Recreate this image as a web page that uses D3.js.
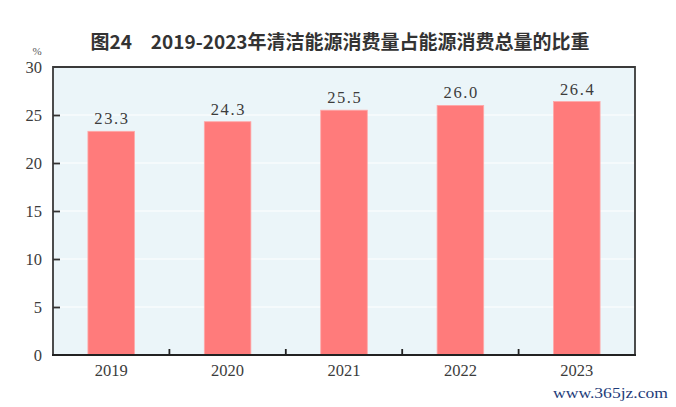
<!DOCTYPE html>
<html><head><meta charset="utf-8">
<script src="https://cdn.jsdelivr.net/npm/d3@7"></script>
<style>html,body{margin:0;padding:0;background:#fff;}svg{display:block;}
.serif{font-family:"Liberation Serif","Times New Roman",serif;}</style>
</head><body>
<svg id="chart" width="676" height="407"></svg>
<script>
const title = "图24\u30002019-2023年清洁能源消费量占能源消费总量的比重";
const years = ["2019", "2020", "2021", "2022", "2023"];
const shares = [23.3, 24.3, 25.5, 26.0, 26.4];
const yTicks = [0, 5, 10, 15, 20, 25, 30];
const unitLabel = "%";
const watermark = "www.365jz.com";

const svg = d3.select("#chart");
const L = 53, R = 635, T = 67, B = 355;

const x = d3.scaleBand().domain(years).range([L, R]).paddingInner(0.6).paddingOuter(0.3);
const xb = d3.scaleBand().domain(years).range([L, R]);
const y = d3.scaleLinear().domain([0, 30]).range([B, T]);

// background
svg.append("rect").attr("x", L).attr("y", T).attr("width", R - L).attr("height", B - T).attr("fill", "#ebf5f9");

// gridlines
svg.append("g").selectAll("line").data(yTicks.filter(d => d > 0 && d < 30)).join("line")
  .attr("x1", L).attr("x2", R).attr("y1", d => y(d)).attr("y2", d => y(d))
  .attr("stroke", "#ffffff").attr("stroke-width", 1.2);

// bars
svg.append("g").selectAll("rect").data(shares).join("rect")
  .attr("x", (d, i) => x(years[i])).attr("width", x.bandwidth())
  .attr("y", d => y(d)).attr("height", d => B - y(d))
  .attr("fill", "#ff7b7b").attr("stroke", "#ffa8a8").attr("stroke-width", 0.8);

// value labels
svg.append("g").selectAll("text").data(shares).join("text")
  .attr("class", "serif")
  .attr("x", (d, i) => x(years[i]) + x.bandwidth() / 2 + 0.8)
  .attr("y", d => y(d) - 7)
  .attr("text-anchor", "middle")
  .style("font-size", "16.5px").style("letter-spacing", "1.6px")
  .attr("fill", "#3c3c3c").text(d => d.toFixed(1));

// frame
svg.append("path").attr("d", `M${L},${B}V${T}H${R}V${B}`).attr("fill", "none")
  .attr("stroke", "#3a3a3a").attr("stroke-width", 1.8);

// y axis
const yAxis = d3.axisLeft(y).tickValues(yTicks).tickSize(-7).tickPadding(11).tickFormat(d3.format("d"));
const gy = svg.append("g").attr("transform", `translate(${L},0)`).call(yAxis);
gy.attr("font-family", null).attr("font-size", null);
gy.select(".domain").remove();
gy.selectAll(".tick line").attr("stroke", "#333").attr("stroke-width", 1.8)
  .filter(d => d === 0 || d === 30).remove();
gy.selectAll(".tick text").attr("class", "serif").style("font-size", "16.5px").attr("fill", "#3c3c3c");

svg.append("text").attr("class", "serif").attr("x", 37).attr("y", 55).attr("text-anchor", "middle")
  .style("font-size", "11px").attr("fill", "#555").text(unitLabel);

// x axis
const xAxis = d3.axisBottom(xb).tickSize(0).tickPadding(9);
const gx = svg.append("g").attr("transform", `translate(0,${B})`).call(xAxis);
gx.attr("font-family", null).attr("font-size", null);
gx.select(".domain").remove();
gx.selectAll(".tick text").attr("class", "serif").style("font-size", "16.5px").attr("fill", "#3c3c3c");
svg.append("line").attr("x1", L - 1).attr("x2", R + 1).attr("y1", B).attr("y2", B)
  .attr("stroke", "#222").attr("stroke-width", 2);
svg.append("g").selectAll("line").data(years.slice(1)).join("line")
  .attr("x1", d => xb(d)).attr("x2", d => xb(d)).attr("y1", B).attr("y2", B - 6)
  .attr("stroke", "#222").attr("stroke-width", 1.8);

// title
svg.append("text").attr("x", 340).attr("y", 49).attr("text-anchor", "middle")
  .attr("font-family", "'Noto Sans CJK SC',sans-serif").attr("font-weight", "bold")
  .attr("font-size", 19).attr("fill", "#333").text(title);

// watermark
svg.append("text").attr("class", "serif").attr("x", 553).attr("y", 398).attr("textLength", 115).attr("lengthAdjust", "spacingAndGlyphs")
  .style("font-size", "15.5px").attr("fill", "#1e3c7a").text(watermark);
</script>
</body></html>
